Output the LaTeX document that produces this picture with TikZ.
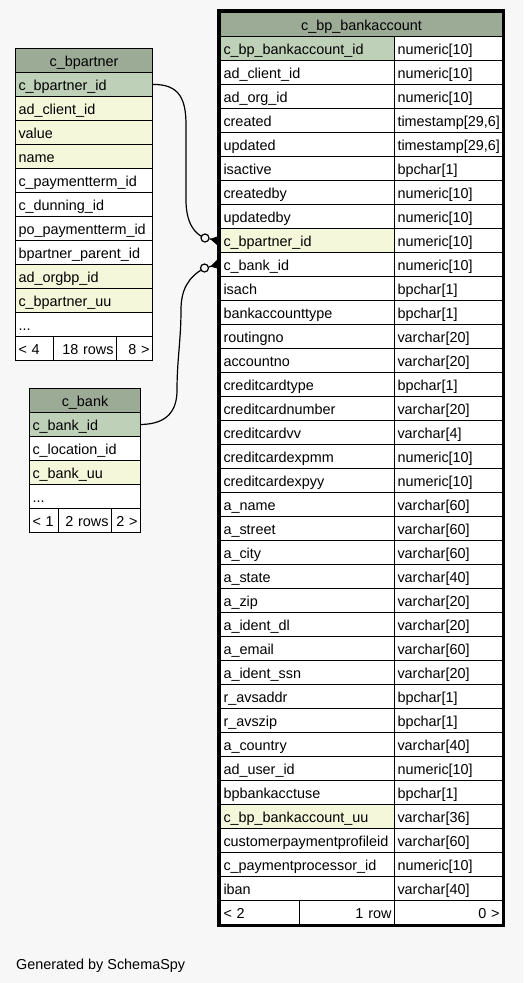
\documentclass[tikz,border=0pt]{standalone}
\usepackage{fontspec}
\setmainfont{Liberation Sans}
\usetikzlibrary{arrows.meta}
\definecolor{pagebg}{HTML}{F7F7F7}
\definecolor{tblhead}{HTML}{9BAB96}
\definecolor{pkrow}{HTML}{BED1B8}
\definecolor{idxrow}{HTML}{F4F7DA}
\hyphenpenalty=10000
\newcommand{\tblfont}{\fontsize{14.4}{16}\selectfont}
\newcommand{\tbldots}{...}

\tikzset{
	cell/.style={draw=black, line width=1pt, anchor=north west, minimum height=24pt,
		inner xsep=3pt, inner ysep=0pt, text height=12.5pt, text depth=1.5pt,
		align=left, text width=#1, font=\tblfont},
	headcell/.style={cell=#1, fill=tblhead, align=center},
	footcell/.style={cell=#1, fill=white, align=right},
	link/.style={line width=1.2pt},
	optdot/.style={circle, draw, line width=1.2pt, fill=pagebg, minimum size=8pt, inner sep=0pt},
	crowfoot/.style={line width=1.2pt, -{Triangle[reversed, length=8pt, width=9pt]}}
}

\begin{document}
\begin{tikzpicture}[x=1pt, y=-1pt]
			\fill[pagebg] (0,0) rectangle (523,983);
			\useasboundingbox (0,0) rectangle (523,983);

			% c_bpartner
			\node[headcell=131pt] (bp-head) at (15,48) {c\_bpartner};
			\foreach \col/\sty [count=\i] in {c\_bpartner\_id/pkrow, ad\_client\_id/idxrow,
				value/idxrow, name/idxrow, c\_paymentterm\_id/white, c\_dunning\_id/white,
				po\_paymentterm\_id/white, bpartner\_parent\_id/white, ad\_orgbp\_id/idxrow,
				c\_bpartner\_uu/idxrow, \tbldots/white}
				\node[cell=131pt, fill=\sty] (bp-\i) at (15,{48+24*\i}) {\col};
			\node[footcell=32pt, align=left] (bp-foot-l) at (15,336) {< 4};
			\node[footcell=57pt] (bp-foot-m) at (53,336) {18 rows};
			\node[footcell=30pt] (bp-foot-r) at (116,336) {8 >};

			% c_bank
			\node[headcell=105pt] (cb-head) at (29,388) {c\_bank};
			\foreach \col/\sty [count=\i] in {c\_bank\_id/pkrow, c\_location\_id/white,
				c\_bank\_uu/idxrow, \tbldots/white}
				\node[cell=105pt, fill=\sty] (cb-\i) at (29,{388+24*\i}) {\col};
			\node[footcell=23pt, align=left] (cb-foot-l) at (29,508) {< 1};
			\node[footcell=47pt] (cb-foot-m) at (58,508) {2 rows};
			\node[footcell=23pt] (cb-foot-r) at (111,508) {2 >};

			% c_bp_bankaccount
			\node[headcell=276pt] (bba-head) at (220,12) {c\_bp\_bankaccount};
			\foreach \col/\typ/\sty [count=\i] in {
				c\_bp\_bankaccount\_id/numeric[10]/pkrow, ad\_client\_id/numeric[10]/white,
				ad\_org\_id/numeric[10]/white, created/{timestamp[29,6]}/white,
				updated/{timestamp[29,6]}/white, isactive/bpchar[1]/white,
				createdby/numeric[10]/white, updatedby/numeric[10]/white,
				c\_bpartner\_id/numeric[10]/idxrow, c\_bank\_id/numeric[10]/white,
				isach/bpchar[1]/white, bankaccounttype/bpchar[1]/white,
				routingno/varchar[20]/white, accountno/varchar[20]/white,
				creditcardtype/bpchar[1]/white, creditcardnumber/varchar[20]/white,
				creditcardvv/varchar[4]/white, creditcardexpmm/numeric[10]/white,
				creditcardexpyy/numeric[10]/white, a\_name/varchar[60]/white,
				a\_street/varchar[60]/white, a\_city/varchar[60]/white,
				a\_state/varchar[40]/white, a\_zip/varchar[20]/white,
				a\_ident\_dl/varchar[20]/white, a\_email/varchar[60]/white,
				a\_ident\_ssn/varchar[20]/white, r\_avsaddr/bpchar[1]/white,
				r\_avszip/bpchar[1]/white, a\_country/varchar[40]/white,
				ad\_user\_id/numeric[10]/white, bpbankacctuse/bpchar[1]/white,
				c\_bp\_bankaccount\_uu/varchar[36]/idxrow,
				customerpaymentprofileid/varchar[60]/white,
				c\_paymentprocessor\_id/numeric[10]/white, iban/varchar[40]/white}
			{
				\node[cell=168pt, fill=\sty] (bba-\i) at (220,{12+24*\i}) {\col};
				\node[cell=102pt, fill=white] (bba-t\i) at (394,{12+24*\i}) {\typ};
			}
			\node[footcell=73pt, align=left] (bba-foot-l) at (220,900) {< 2};
			\node[footcell=89pt] (bba-foot-m) at (299,900) {1 row};
			\node[footcell=102pt] (bba-foot-r) at (394,900) {0 >};
			\draw[line width=3pt] (218.5,10.5) rectangle (503.5,925.5);

			% relations
			\draw[link] (bp-1.east) .. controls (180,84) and (186,100) .. (186,125)
				-- (186,200) .. controls (186,222) and (194,234) .. (205,238);
			\draw[link] (cb-1.east) .. controls (168,424) and (177,410) .. (177,390)
				.. controls (177,360) and (181,340) .. (181,310)
				.. controls (181,290) and (188,277) .. (204.5,268);
			\node[optdot] (bp-dot) at (205,238) {};
			\node[optdot] (cb-dot) at (204.5,268) {};
			\draw[crowfoot] (bp-dot) -- ([xshift=-2pt]bba-9.west);
			\draw[crowfoot] (cb-dot) -- ([xshift=-2pt]bba-10.west);

			\node[anchor=base west, inner sep=0pt, font=\tblfont] (credit) at (16,969) {Generated by SchemaSpy};
		\end{tikzpicture}
\end{document}
